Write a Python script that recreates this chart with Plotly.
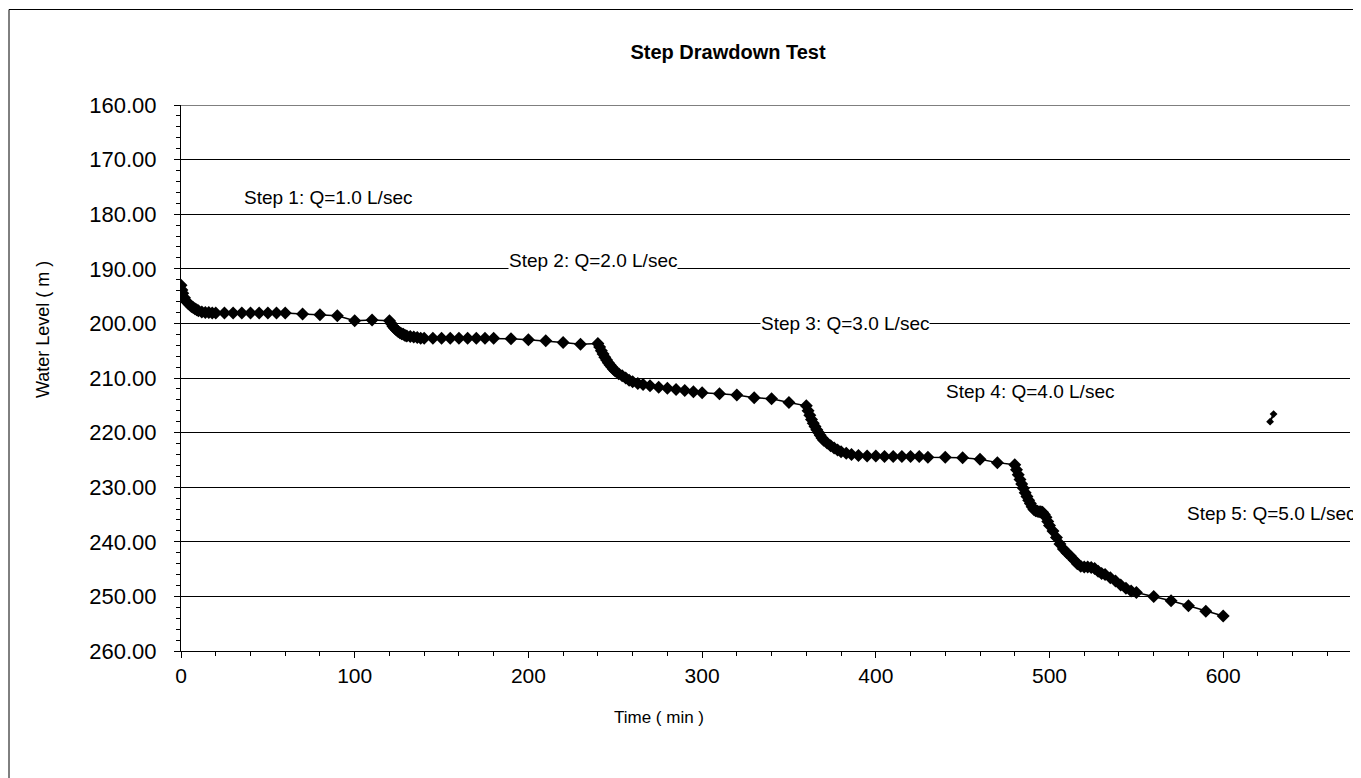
import plotly.graph_objects as go

# ---- data ----
time_min = [
    0, 0.5, 1, 2, 3, 4, 5, 6, 7, 8, 9, 10, 12, 14, 16, 18, 20, 25, 30, 35, 40, 45, 50, 55, 60,
    70, 80, 90, 100, 110, 120,
    121, 122, 123, 124, 125, 126, 127, 128, 129, 130, 132, 134, 136, 138, 140, 145, 150, 155,
    160, 165, 170, 175, 180, 190, 200, 210, 220, 230, 240,
    241, 242, 243, 244, 245, 246, 247, 248, 249, 250, 252, 254, 256, 258, 260, 263, 266, 270,
    275, 280, 285, 290, 295, 300, 310, 320, 330, 340, 350, 360,
    361, 362, 363, 364, 365, 366, 367, 368, 369, 370, 372, 374, 376, 378, 380, 383, 386, 390,
    395, 400, 405, 410, 415, 420, 425, 430, 440, 450, 460, 470, 480,
    481, 482, 483, 484, 485, 486, 487, 488, 489, 490, 491, 492, 493, 494, 495, 496, 497, 498,
    499, 500, 502, 504, 506, 508, 510, 512, 514, 516, 518, 520, 522, 524, 526, 528, 530, 532,
    535, 538, 541, 544, 547, 550, 560, 570, 580, 590, 600,
]
water_level = [
    193.0, 193.9, 194.5, 195.3, 195.9, 196.3, 196.6, 196.9, 197.1, 197.3, 197.5, 197.7, 197.9,
    198.0, 198.0, 198.1, 198.1, 198.1, 198.1, 198.1, 198.1, 198.1, 198.1, 198.1, 198.1,
    198.3, 198.4, 198.6, 199.5, 199.4, 199.5,
    200.0, 200.5, 200.9, 201.2, 201.5, 201.7, 201.9, 202.0, 202.2, 202.3, 202.4, 202.5, 202.6,
    202.7, 202.7, 202.7, 202.7, 202.7, 202.7, 202.7, 202.7, 202.7, 202.7, 202.8, 203.0, 203.2,
    203.5, 203.8, 203.7,
    204.3, 205.0, 205.6, 206.2, 206.7, 207.2, 207.6, 208.0, 208.4, 208.7, 209.2, 209.6, 210.0,
    210.4, 210.7, 211.0, 211.2, 211.4, 211.7, 211.9, 212.1, 212.3, 212.5, 212.7, 212.9, 213.1,
    213.6, 213.8, 214.5, 215.1,
    216.0, 216.8, 217.6, 218.3, 218.9, 219.5, 220.0, 220.5, 221.0, 221.4, 221.9, 222.4, 222.8,
    223.2, 223.5, 223.8, 224.0, 224.2, 224.3, 224.3, 224.4, 224.4, 224.4, 224.4, 224.4, 224.5,
    224.5, 224.6, 224.9, 225.5, 225.9,
    226.8, 227.7, 228.6, 229.4, 230.2, 231.0, 231.7, 232.4, 233.0, 233.6, 234.1, 234.3, 234.4,
    234.5, 234.5, 234.6, 235.0, 235.5, 236.3, 237.0, 238.0, 239.2, 240.4, 241.3, 242.0, 242.6,
    243.3, 244.0, 244.5, 244.6, 244.6, 244.7, 244.9, 245.4, 245.8, 246.0, 246.6, 247.2, 247.9,
    248.5, 249.0, 249.3, 250.0, 250.8, 251.7, 252.7, 253.6,
]
stray_time = [627, 629]
stray_level = [218.0, 216.6]

step_labels = ["Step 1: Q=1.0 L/sec", "Step 2: Q=2.0 L/sec", "Step 3: Q=3.0 L/sec",
               "Step 4: Q=4.0 L/sec", "Step 5: Q=5.0 L/sec"]
step_label_time = [35.7, 188.3, 333.3, 439.8, 578.6]
step_label_level = [177.0, 188.4, 200.1, 212.4, 234.9]

y_ticks = [160, 170, 180, 190, 200, 210, 220, 230, 240, 250, 260]
x_ticks = [0, 100, 200, 300, 400, 500, 600]
x_range = [0, 673]
y_range = [260, 160]

FONT = "Liberation Sans, Arial, sans-serif"
OFF = 8  # browser body margin

fig = go.Figure()
fig.add_trace(go.Scatter(
    x=time_min, y=water_level, mode="lines+markers",
    line=dict(color="black", width=1.5),
    marker=dict(symbol="diamond", size=10, color="black"),
    showlegend=False,
))
fig.add_trace(go.Scatter(
    x=stray_time, y=stray_level, mode="lines+markers",
    line=dict(color="black", width=2),
    marker=dict(symbol="diamond", size=6, color="black"),
    showlegend=False,
))

for txt, tx, ty in zip(step_labels, step_label_time, step_label_level):
    fig.add_annotation(x=tx, y=ty, xref="x", yref="y", text=txt, showarrow=False,
                       xanchor="left", yanchor="middle", bgcolor="white", borderpad=0,
                       font=dict(family=FONT, size=19, color="black"))

fig.add_annotation(x=(659 - 181) / 1169, y=(651 - 717) / 546, xref="paper", yref="paper",
                   text="Time ( min )", showarrow=False, xanchor="center", yanchor="middle",
                   font=dict(family=FONT, size=17, color="black"))
fig.add_annotation(x=(43 - 181) / 1169, y=(651 - 330) / 546, xref="paper", yref="paper",
                   text="Water Level ( m )", showarrow=False, textangle=-90,
                   xanchor="center", yanchor="middle",
                   font=dict(family=FONT, size=18, color="black"))

# top gridline of plot area (at the 160 level)
fig.add_shape(type="line", xref="paper", yref="y", x0=0, x1=1,
              y0=y_range[1], y1=y_range[1], line=dict(color="black", width=1))

# outer chart border (left and top visible)
fig.add_shape(type="rect", xref="paper", yref="paper",
              x0=(9 - 181) / 1169, x1=1.3, y0=-0.5, y1=(651 - 9.5) / 546,
              line=dict(color="black", width=1), layer="below")

fig.update_layout(
    width=1361, height=778,
    margin=dict(l=181 - OFF, r=19, t=105 - OFF, b=135),
    paper_bgcolor="white", plot_bgcolor="white",
    title=dict(text="<b>Step Drawdown Test</b>", x=(728 - OFF) / 1361, xanchor="center",
               y=1 - (52 - OFF) / 778, yanchor="middle", xref="container", yref="container",
               font=dict(family=FONT, size=20, color="black")),
    font=dict(family=FONT, color="black"),
)
fig.update_xaxes(
    range=x_range, tickmode="array", tickvals=x_ticks, ticktext=[str(v) for v in x_ticks],
    showgrid=False, zeroline=False, showline=True, linecolor="black", linewidth=1,
    ticks="outside", ticklen=6, tickcolor="black",
    minor=dict(dtick=20, ticks="outside", ticklen=4, tickcolor="black", showgrid=False),
    tickfont=dict(family=FONT, size=21, color="black"), ticklabelstandoff=0,
)
fig.update_yaxes(
    range=y_range, tickmode="array", tickvals=y_ticks,
    ticktext=[f"{v:.2f}" for v in y_ticks],
    showgrid=True, gridcolor="black", gridwidth=1, zeroline=False,
    showline=True, linecolor="black", linewidth=1,
    ticks="outside", ticklen=6, tickcolor="black",
    minor=dict(dtick=2, ticks="outside", ticklen=4, tickcolor="black", showgrid=False),
    tickfont=dict(family=FONT, size=22, color="black"), ticklabelstandoff=13,
)

fig.write_html("out.html")
